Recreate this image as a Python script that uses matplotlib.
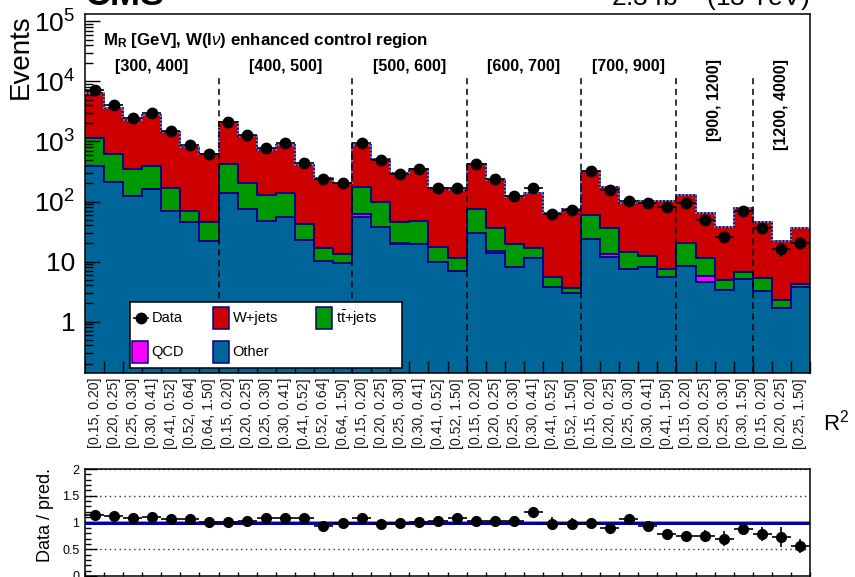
import numpy as np
import matplotlib
matplotlib.use('Agg')
import matplotlib.pyplot as plt
import matplotlib.transforms as mtransforms
from matplotlib.ticker import FixedLocator, LogLocator, NullFormatter, FuncFormatter, MultipleLocator
from matplotlib.patches import Rectangle

plt.rcParams['font.family'] = ['Liberation Sans', 'DejaVu Sans']
plt.rcParams['mathtext.fontset'] = 'custom'
plt.rcParams['mathtext.rm'] = 'Liberation Sans'
plt.rcParams['mathtext.it'] = 'Liberation Sans:italic'
plt.rcParams['mathtext.bf'] = 'Liberation Sans:bold'

# ---------------- data ----------------
group_labels = ["[300, 400]", "[400, 500]", "[500, 600]", "[600, 700]",
                "[700, 900]", "[900, 1200]", "[1200, 4000]"]
group_sizes = [7, 7, 6, 6, 5, 4, 3]
bin_labels = (
    ["[0.15, 0.20]", "[0.20, 0.25]", "[0.25, 0.30]", "[0.30, 0.41]", "[0.41, 0.52]", "[0.52, 0.64]", "[0.64, 1.50]"] +
    ["[0.15, 0.20]", "[0.20, 0.25]", "[0.25, 0.30]", "[0.30, 0.41]", "[0.41, 0.52]", "[0.52, 0.64]", "[0.64, 1.50]"] +
    ["[0.15, 0.20]", "[0.20, 0.25]", "[0.25, 0.30]", "[0.30, 0.41]", "[0.41, 0.52]", "[0.52, 1.50]"] +
    ["[0.15, 0.20]", "[0.20, 0.25]", "[0.25, 0.30]", "[0.30, 0.41]", "[0.41, 0.52]", "[0.52, 1.50]"] +
    ["[0.15, 0.20]", "[0.20, 0.25]", "[0.25, 0.30]", "[0.30, 0.41]", "[0.41, 1.50]"] +
    ["[0.15, 0.20]", "[0.20, 0.25]", "[0.25, 0.30]", "[0.30, 1.50]"] +
    ["[0.15, 0.20]", "[0.20, 0.25]", "[0.25, 1.50]"]
)
other = [391, 214, 124, 160, 69.5, 46, 22,
         137, 74, 47, 54.6, 22.8, 10.2, 9.55,
         55.2, 37.2, 19.6, 19.6, 9.7, 7.0,
         30.2, 13.7, 8.2, 11.3, 3.8, 2.95,
         23.4, 12.0, 7.4, 8.2, 5.6,
         8.5, 4.5, 3.35, 5.17,
         3.22, 1.7, 3.72]
qcd = [0, 0, 0, 0, 0, 0, 0,
       0.8, 0, 0, 0, 0, 0, 0,
       6.0, 0, 1.0, 0, 0, 0,
       0, 1.4, 0, 0, 0, 0,
       0, 1.3, 0, 0, 0,
       0, 1.2, 0, 0,
       0, 0, 0]
ttbar = [739, 398, 224, 235, 100.5, 24.3, 24,
         279, 132, 80, 82.4, 19.2, 6.6, 3.95,
         111.8, 59.8, 24.4, 28.3, 8.0, 4.3,
         45.8, 21.5, 11.2, 5.3, 1.78, 0.71,
         36.6, 22.5, 7.2, 4.2, 1.8,
         12.1, 5.57, 1.55, 1.59,
         2.15, 0.56, 0.45]
wjets = [5230, 2963, 1932, 2340, 1253, 749, 566,
         1673, 1044, 595, 748, 364, 232, 187.5,
         702, 414, 250, 296, 148, 144,
         341, 189, 100.6, 123.4, 58, 70.3,
         262, 137, 80.9, 89.6, 94.6,
         107.4, 53.7, 32.3, 71.2,
         40.1, 19.7, 31.6]
data = [7263, 3993, 2462, 3022, 1508, 875, 618,
        2111, 1275, 785, 956, 440, 234, 201,
        945, 498, 292, 344, 171, 167,
        425, 233, 123, 167, 62, 72,
        322, 156, 101, 95, 81,
        95, 49, 26, 69,
        36, 16, 20]

# ---------------- figure ----------------
W, H = 855, 577
def fx(px): return px / W
def fy(py): return 1 - py / H

fig = plt.figure(figsize=(W / 100, H / 100), dpi=100)
ax = fig.add_axes([fx(85), fy(373), fx(810) - fx(85), fy(14) - fy(373)])
rax = fig.add_axes([fx(85), fy(576), fx(810) - fx(85), fy(469) - fy(576)])

n = len(other)
edges = np.arange(n + 1)
centers = edges[:-1] + 0.5
data_a = np.array(data, float)

comps = [(other, '#006699'), (qcd, '#ff00ff'), (ttbar, '#009900'), (wjets, '#cc0000')]
edge_col = '#00008c'
base = np.full(n, 1e-3)
tops = []
for vals, col in comps:
    top = base + np.array(vals, float)
    ax.stairs(top, edges, baseline=base, fill=True, color=col, lw=0, zorder=1)
    tops.append(top)
    base = top
for top in tops:
    ax.stairs(top, edges, baseline=None, color=edge_col, lw=1.3, zorder=2)
total = tops[-1]
ax.stairs(total, edges, baseline=None, color='#9090a8', lw=1.3, ls=(0, (1, 1)), zorder=3)

ax.errorbar(centers, data_a, xerr=0.5, yerr=np.sqrt(data_a), fmt='o', color='k',
            ms=7.5, lw=1.2, capsize=0, zorder=5)

ax.set_yscale('log')
ax.set_ylim(0.139, 1.33e5)
ax.set_xlim(0, n)

def logfmt(v, pos):
    k = int(round(np.log10(v)))
    if k == 0:
        return '1'
    if k == 1:
        return '10'
    return r'$10^{%d}$' % k
ax.yaxis.set_major_locator(FixedLocator([1, 10, 1e2, 1e3, 1e4, 1e5]))
ax.yaxis.set_major_formatter(FuncFormatter(logfmt))
ax.yaxis.set_minor_locator(LogLocator(base=10, subs=np.arange(2, 10), numticks=20))
ax.yaxis.set_minor_formatter(NullFormatter())
ax.tick_params(axis='y', which='major', direction='in', length=11, width=1.0,
               labelsize=19, pad=7, right=False)
ax.tick_params(axis='y', which='minor', direction='in', length=5.5, width=1.0, right=False)
ax.set_xticks(edges)
ax.set_xticklabels([])
ax.tick_params(axis='x', which='major', direction='in', length=8.6, width=1.0, top=False)
ax.tick_params(axis='x', which='minor', length=0)
for sp in ax.spines.values():
    sp.set_linewidth(1.1)

trans = mtransforms.blended_transform_factory(ax.transData, ax.transAxes)
for c, lab in zip(centers, bin_labels):
    ax.text(c, -5 / 359, lab, rotation=90, ha='center', va='top', fontsize=10.2,
            color='#1a1a1a', transform=trans, clip_on=False)

# group separators and labels
bounds = np.cumsum(group_sizes)
ax.vlines(bounds[:-1], 0, (373 - 75) / 359, transform=trans, colors='k',
          linestyles=(0, (4, 3)), lw=1.1, zorder=4)
starts = np.concatenate([[0], bounds[:-1]])
for i, (s, g, lab) in enumerate(zip(starts, group_sizes, group_labels)):
    cx = s + g / 2
    if i < 5:
        ax.text(cx, (373 - 67) / 359, lab, ha='center', va='center', fontsize=11.5,
                weight='bold', transform=trans)
    else:
        ax.text(cx, (373 - 59) / 359, lab, ha='center', va='top', rotation=90,
                fontsize=11.5, weight='bold', transform=trans)

ax.text((103 - 85) / 725, (373 - 45) / 359,
        r'$\mathbf{M_{R}}$ [GeV], W(l$\nu$) enhanced control region',
        transform=ax.transAxes, fontsize=12.2, weight='bold', va='baseline', ha='left')

# legend drawn as an inset
lax = fig.add_axes([fx(130), fy(368), fx(402) - fx(130), fy(302) - fy(368)], zorder=10)
lax.set_xlim(0, 272)
lax.set_ylim(66, 0)
lax.set_xticks([])
lax.set_yticks([])
for sp in lax.spines.values():
    sp.set_linewidth(1.1)
lab_fs = 10.5
lax.plot([4, 18], [16, 16], color='k', lw=1.2)
lax.plot([11], [16], 'o', color='k', ms=7.5)
lax.text(22, 16, 'Data', va='center', ha='left', fontsize=lab_fs)
leg_items = [(83, 5, '#cc0000', 'W+jets'), (186, 5, '#009900', r't$\bar{\mathrm{t}}$+jets'),
             (2, 39, '#ff00ff', 'QCD'), (83, 39, '#006699', 'Other')]
for x0, y0, col, lab in leg_items:
    lax.add_patch(Rectangle((x0, y0), 15.5, 22, facecolor=col, edgecolor=edge_col, lw=1.1))
    lax.text(x0 + 19.5, y0 + 11, lab, va='center', ha='left', fontsize=lab_fs)

# ---------------- ratio ----------------
ratio = data_a / total
rerr = np.sqrt(data_a) / total
rax.axhspan(0.975, 1.025, color='#8f8fd8', lw=0, zorder=1)
rax.axhline(1.0, color='#0000a8', lw=2.2, zorder=2)
for yv in (0.5, 1.5, 2.0):
    rax.axhline(yv, color='#333333', lw=1.0, ls=(0, (1, 2.5)), zorder=1)
rax.errorbar(centers, ratio, xerr=0.5, yerr=rerr, fmt='o', color='k', ms=7,
             lw=1.2, capsize=0, zorder=5)
rax.set_xlim(0, n)
rax.set_ylim(0, 2)
rax.set_yticks([0, 0.5, 1, 1.5, 2])
rax.set_yticklabels(['0', '0.5', '1', '1.5', '2'])
rax.yaxis.set_minor_locator(MultipleLocator(0.1))
rax.tick_params(axis='y', which='major', direction='in', length=8.6, width=1.0,
                labelsize=9, pad=4)
rax.tick_params(axis='y', which='minor', direction='in', length=4.5, width=1.0)
rax.set_xticks(edges)
rax.set_xticklabels([])
rax.tick_params(axis='x', which='major', direction='in', length=3, width=1.0)
for sp in rax.spines.values():
    sp.set_linewidth(1.1)

# ---------------- texts ----------------
fig.text(fx(21), fy(14), 'Events', rotation=90, ha='center', va='top', fontsize=20)
fig.text(fx(46), fy(515), 'Data / pred.', rotation=90, ha='center', va='center', fontsize=13)
fig.text(fx(823), fy(423), r'R$^{2}$', ha='left', va='center', fontsize=16)
fig.text(fx(85), fy(5), 'CMS', ha='left', va='baseline', fontsize=26, weight='bold')
fig.text(fx(809), fy(7), r'2.3 fb$^{-1}$ (13 TeV)', ha='right', va='baseline', fontsize=19)

fig.savefig('out.png', dpi=100)
